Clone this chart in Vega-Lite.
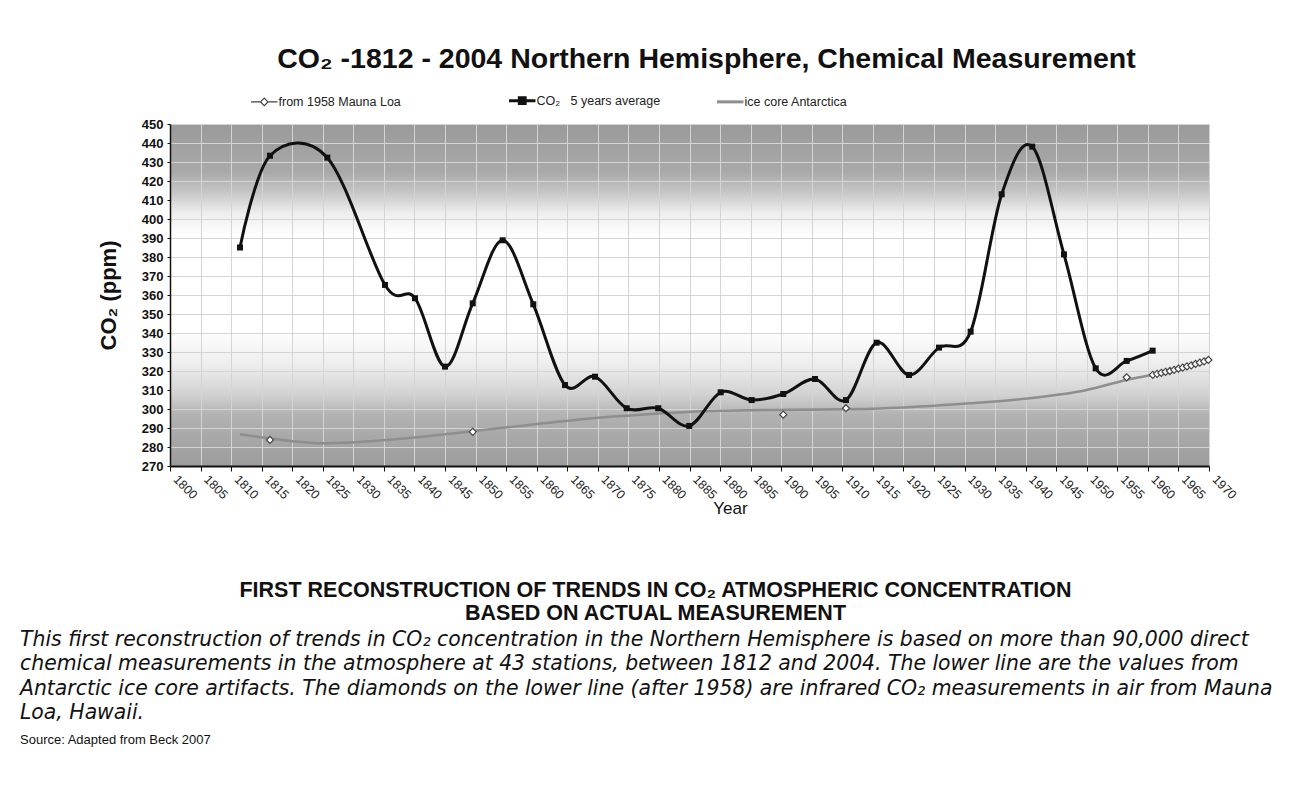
{
  "$schema": "https://vega.github.io/schema/vega-lite/v6.json",
  "background": "white",
  "padding": {"left": 20, "top": 44, "right": 5, "bottom": 5},
  "config": {
    "font": "Liberation Sans",
    "view": {"stroke": null},
    "concat": {"spacing": 0}
  },
  "datasets": {
    "co2": [
      {"year": 1811.45, "ppm": 385.0},
      {"year": 1816.36, "ppm": 433.3},
      {"year": 1825.74, "ppm": 432.3},
      {"year": 1835.18, "ppm": 365.3},
      {"year": 1840.09, "ppm": 358.3},
      {"year": 1845.0, "ppm": 322.3},
      {"year": 1849.53, "ppm": 355.6},
      {"year": 1854.43, "ppm": 388.8},
      {"year": 1859.44, "ppm": 355.1},
      {"year": 1864.63, "ppm": 312.6},
      {"year": 1869.54, "ppm": 317.0},
      {"year": 1874.72, "ppm": 300.4},
      {"year": 1879.89, "ppm": 300.4},
      {"year": 1884.96, "ppm": 291.1},
      {"year": 1890.1, "ppm": 308.8},
      {"year": 1895.17, "ppm": 304.7},
      {"year": 1900.34, "ppm": 307.9},
      {"year": 1905.53, "ppm": 315.8},
      {"year": 1910.6, "ppm": 304.7},
      {"year": 1915.62, "ppm": 334.9},
      {"year": 1920.91, "ppm": 317.9},
      {"year": 1925.82, "ppm": 332.3},
      {"year": 1931.0, "ppm": 340.7},
      {"year": 1936.08, "ppm": 413.0},
      {"year": 1941.08, "ppm": 438.1},
      {"year": 1946.27, "ppm": 381.4},
      {"year": 1951.46, "ppm": 321.4},
      {"year": 1956.53, "ppm": 325.3},
      {"year": 1960.78, "ppm": 330.7}
    ],
    "ice": [
      {"year": 1811.45, "ppm": 286.7},
      {"year": 1816.36, "ppm": 284.5},
      {"year": 1825.0, "ppm": 282.0},
      {"year": 1838.7, "ppm": 284.6},
      {"year": 1849.5, "ppm": 288.3},
      {"year": 1872.5, "ppm": 296.0},
      {"year": 1888.9, "ppm": 299.0},
      {"year": 1916.2, "ppm": 300.3},
      {"year": 1930.9, "ppm": 303.0},
      {"year": 1941.8, "ppm": 306.0},
      {"year": 1950.0, "ppm": 310.0},
      {"year": 1956.5, "ppm": 315.3},
      {"year": 1960.8, "ppm": 318.0},
      {"year": 1970.0, "ppm": 325.8}
    ],
    "mauna": [
      {"year": 1816.36, "ppm": 283.7},
      {"year": 1849.53, "ppm": 288.0},
      {"year": 1900.34, "ppm": 297.0},
      {"year": 1910.6, "ppm": 300.4},
      {"year": 1956.53, "ppm": 316.7},
      {"year": 1960.8, "ppm": 318.0},
      {"year": 1961.5, "ppm": 318.5},
      {"year": 1962.2, "ppm": 319.0},
      {"year": 1962.9, "ppm": 319.5},
      {"year": 1963.6, "ppm": 320.0},
      {"year": 1964.3, "ppm": 320.6},
      {"year": 1965.0, "ppm": 321.2},
      {"year": 1965.7, "ppm": 321.8},
      {"year": 1966.4, "ppm": 322.4},
      {"year": 1967.1, "ppm": 323.0},
      {"year": 1967.8, "ppm": 323.7},
      {"year": 1968.5, "ppm": 324.4},
      {"year": 1969.2, "ppm": 325.1},
      {"year": 1969.9, "ppm": 325.8}
    ]
  },
  "vconcat": [
    {
      "width": 1039,
      "height": 342,
      "title": {
        "text": "CO₂ -1812 - 2004 Northern Hemisphere, Chemical Measurement",
        "fontSize": 28.5,
        "fontWeight": "bold",
        "color": "#111111",
        "frame": "group",
        "offset": 45,
        "dx": 17
      },
      "view": {
        "stroke": null,
        "fill": {
          "gradient": "linear",
          "x1": 0, "y1": 0, "x2": 0, "y2": 1,
          "stops": [
            {"offset": 0, "color": "#9a9a9a"},
            {"offset": 0.14, "color": "#a9a9a9"},
            {"offset": 0.2, "color": "#c6c6c6"},
            {"offset": 0.26, "color": "#eeeeee"},
            {"offset": 0.33, "color": "#ffffff"},
            {"offset": 0.6, "color": "#ffffff"},
            {"offset": 0.7, "color": "#eeeeee"},
            {"offset": 0.79, "color": "#d2d2d2"},
            {"offset": 0.85, "color": "#b2b2b2"},
            {"offset": 1, "color": "#9c9c9c"}
          ]
        }
      },
      "encoding": {
        "x": {
          "field": "year",
          "type": "quantitative",
          "scale": {"domain": [1800, 1970], "nice": false, "zero": false},
          "axis": {
            "title": "Year",
            "titleFontSize": 17,
            "titleFontWeight": "normal",
            "titleColor": "#111111",
            "titleX": 560,
            "titleY": 34,
            "titleBaseline": "top",
            "values": [1800, 1805, 1810, 1815, 1820, 1825, 1830, 1835, 1840, 1845, 1850, 1855, 1860, 1865, 1870, 1875, 1880, 1885, 1890, 1895, 1900, 1905, 1910, 1915, 1920, 1925, 1930, 1935, 1940, 1945, 1950, 1955, 1960, 1965, 1970],
            "format": "d",
            "labelAngle": 45,
            "labelAlign": "left",
            "labelBaseline": "middle",
            "labelFontSize": 12.5,
            "labelColor": "#222222",
            "labelPadding": 6,
            "labelOffset": 5,
            "labelOverlap": false,
            "labelFlush": false,
            "tickSize": 5,
            "tickColor": "#111111",
            "domainColor": "#111111",
            "domainWidth": 2,
            "grid": true,
            "gridColor": "#d4d4d4",
            "gridWidth": 1
          }
        },
        "y": {
          "field": "ppm",
          "type": "quantitative",
          "scale": {"domain": [270, 450], "nice": false, "zero": false},
          "axis": {
            "title": "CO₂ (ppm)",
            "titleFontSize": 22,
            "titleFontWeight": "bold",
            "titleColor": "#111111",
            "titlePadding": 21,
            "values": [270, 280, 290, 300, 310, 320, 330, 340, 350, 360, 370, 380, 390, 400, 410, 420, 430, 440, 450],
            "labelFontSize": 13,
            "labelFontWeight": "bold",
            "labelColor": "#111111",
            "labelPadding": 4,
            "tickSize": 3,
            "tickColor": "#111111",
            "domainColor": "#111111",
            "domainWidth": 1.5,
            "grid": true,
            "gridColor": "#d4d4d4",
            "gridWidth": 1
          }
        }
      },
      "layer": [
        {
          "data": {"name": "ice"},
          "mark": {"type": "line", "interpolate": "monotone", "strokeWidth": 2.5},
          "encoding": {
            "color": {
              "datum": "ice core Antarctica",
              "scale": {
                "domain": ["from 1958 Mauna Loa", "CO₂  5 years average", "ice core Antarctica"],
                "range": ["#444444", "#111111", "#8e8e8e"]
              },
              "legend": {
                "title": null,
                "orient": "none",
                "direction": "horizontal",
                "legendX": 88,
                "legendY": -30,
                "labelFontSize": 12.5,
                "labelColor": "#222222",
                "labelOffset": 8,
                "labelLimit": 400,
                "columnPadding": 50,
                "symbolSize": 700,
                "labelExpr": "datum.label === 'from 1958 Mauna Loa' ? 'from 1958 Mauna Loa\u00a0\u00a0\u00a0\u00a0\u00a0\u00a0\u00a0\u00a0\u00a0\u00a0\u00a0\u00a0\u00a0\u00a0\u00a0\u200b' : datum.label === 'CO₂  5 years average' ? 'CO₂\u00a0\u00a0\u00a05 years average' : datum.label",
                "encode": {
                  "symbols": {
                    "update": {
                      "shape": {"signal": "datum.value === 'ice core Antarctica' ? 'M-1,0L1,0' : datum.value === 'from 1958 Mauna Loa' ? 'M-1,0L-0.28,0M0.28,0L1,0M-0.28,0L0,-0.28L0.28,0L0,0.28Z' : 'M-1,0L1,0M-0.22,-0.22L0.22,-0.22L0.22,0.22L-0.22,0.22Z'"},
                      "stroke": {"signal": "datum.value === 'ice core Antarctica' ? '#8e8e8e' : datum.value === 'from 1958 Mauna Loa' ? '#555555' : '#111111'"},
                      "fill": {"signal": "datum.value === 'ice core Antarctica' ? 'transparent' : datum.value === 'from 1958 Mauna Loa' ? '#ffffff' : '#111111'"},
                      "fillOpacity": {"signal": "datum.value === 'CO₂  5 years average' ? 1 : 0"},
                      "strokeWidth": {"signal": "datum.value === 'from 1958 Mauna Loa' ? 1.2 : 3"},
                      "size": {"value": 700},
                      "opacity": {"value": 1}
                    }
                  }
                }
              }
            }
          }
        },
        {
          "data": {"name": "co2"},
          "mark": {"type": "line", "interpolate": "cardinal", "strokeWidth": 3},
          "encoding": {"color": {"datum": "CO₂  5 years average"}}
        },
        {
          "data": {"name": "co2"},
          "mark": {"type": "point", "shape": "square", "filled": true, "size": 36, "opacity": 1},
          "encoding": {"color": {"datum": "CO₂  5 years average"}}
        },
        {
          "data": {"name": "mauna"},
          "mark": {"type": "point", "shape": "diamond", "filled": false, "fill": "#ffffff", "size": 50, "strokeWidth": 1.2, "opacity": 1},
          "encoding": {"color": {"datum": "from 1958 Mauna Loa"}}
        }
      ]
    },
    {
      "width": 1039,
      "height": 65,
      "data": {"values": [{"k": 1}]},
      "mark": {"type": "text", "text": ""},
      "title": {
        "text": ["FIRST RECONSTRUCTION OF TRENDS IN CO₂ ATMOSPHERIC CONCENTRATION", "BASED ON ACTUAL MEASUREMENT"],
        "orient": "bottom",
        "anchor": "middle",
        "frame": "group",
        "fontSize": 21.5,
        "fontWeight": "bold",
        "lineHeight": 23,
        "color": "#111111",
        "offset": -1,
        "dx": -34
      }
    },
    {
      "width": 1039,
      "height": 1,
      "data": {"values": [{"k": 1}]},
      "mark": {"type": "text", "text": ""},
      "title": {
        "text": [
          "This first reconstruction of trends in CO₂ concentration in the Northern Hemisphere is based on more than 90,000 direct",
          "chemical measurements in the atmosphere at 43 stations, between 1812 and 2004. The lower line are the values from",
          "Antarctic ice core artifacts. The diamonds on the lower line (after 1958) are infrared CO₂ measurements in air from Mauna",
          "Loa, Hawaii."
        ],
        "subtitle": "Source: Adapted from Beck 2007",
        "orient": "bottom",
        "anchor": "start",
        "frame": "group",
        "font": "DejaVu Sans",
        "fontSize": 20.4,
        "fontStyle": "italic",
        "fontWeight": "normal",
        "lineHeight": 24.5,
        "color": "#111111",
        "subtitleFont": "Liberation Sans",
        "subtitleFontSize": 13,
        "subtitleColor": "#111111",
        "subtitlePadding": 11,
        "offset": -7,
        "dx": -150
      }
    }
  ]
}
